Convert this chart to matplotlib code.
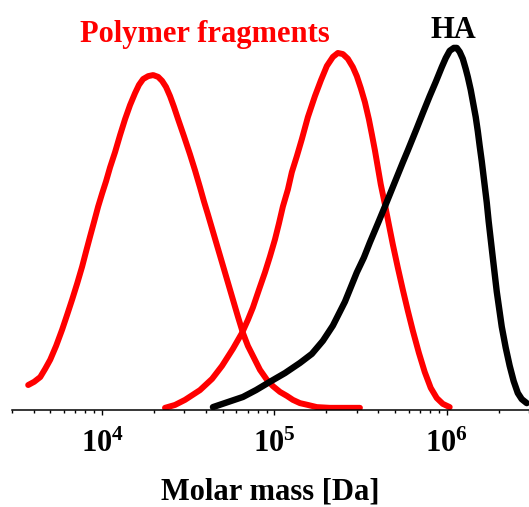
import matplotlib
matplotlib.use("Agg")
import matplotlib.pyplot as plt
import numpy as np

plt.rcParams['font.family'] = ['Liberation Serif', 'DejaVu Serif']
plt.rcParams['font.weight'] = 'bold'
plt.rcParams['mathtext.fontset'] = 'custom'
plt.rcParams['mathtext.rm'] = 'Liberation Serif:bold'
plt.rcParams['mathtext.bf'] = 'Liberation Serif:bold'
plt.rcParams['mathtext.it'] = 'Liberation Serif:bold'

# fragment 1 (low molar mass): log10(M / Da) and normalised signal
frag1_logm = [3.571, 3.606, 3.641, 3.670, 3.699, 3.733, 3.768, 3.797, 3.826,
              3.855, 3.884, 3.907, 3.930, 3.954, 3.977, 4.000, 4.023, 4.046,
              4.075, 4.104, 4.133, 4.162, 4.191, 4.214, 4.238, 4.267, 4.296,
              4.325, 4.348, 4.371, 4.394, 4.417, 4.441, 4.475, 4.510, 4.539,
              4.568, 4.591, 4.614, 4.643, 4.672, 4.701, 4.730, 4.759, 4.788,
              4.817, 4.846, 4.881, 4.916, 4.957, 4.991, 5.032, 5.072, 5.107,
              5.148, 5.194, 5.246, 5.322, 5.409, 5.496]
frag1_signal = [0.069, 0.078, 0.091, 0.114, 0.139, 0.177, 0.222, 0.263, 0.305,
                0.349, 0.396, 0.438, 0.479, 0.521, 0.562, 0.598, 0.632, 0.670,
                0.712, 0.759, 0.803, 0.842, 0.875, 0.898, 0.914, 0.922, 0.925,
                0.920, 0.909, 0.892, 0.867, 0.837, 0.803, 0.756, 0.706, 0.662,
                0.615, 0.576, 0.540, 0.493, 0.446, 0.399, 0.352, 0.305, 0.258,
                0.213, 0.177, 0.144, 0.111, 0.083, 0.066, 0.050, 0.039, 0.028,
                0.019, 0.014, 0.008, 0.006, 0.006, 0.006]

# fragment 2 (higher molar mass)
frag2_logm = [4.365, 4.423, 4.481, 4.568, 4.638, 4.696, 4.759, 4.812, 4.846,
              4.875, 4.910, 4.945, 4.974, 5.003, 5.026, 5.049, 5.078, 5.101,
              5.130, 5.159, 5.194, 5.235, 5.270, 5.304, 5.339, 5.368, 5.397,
              5.426, 5.455, 5.478, 5.501, 5.525, 5.548, 5.565, 5.583, 5.600,
              5.617, 5.641, 5.664, 5.687, 5.716, 5.745, 5.774, 5.803, 5.838,
              5.872, 5.907, 5.942, 5.977, 6.017]
frag2_signal = [0.006, 0.014, 0.028, 0.055, 0.086, 0.122, 0.169, 0.213, 0.249,
                0.283, 0.332, 0.380, 0.424, 0.471, 0.515, 0.562, 0.609, 0.657,
                0.701, 0.748, 0.809, 0.867, 0.911, 0.950, 0.975, 0.986, 0.983,
                0.970, 0.947, 0.922, 0.889, 0.850, 0.803, 0.762, 0.717, 0.670,
                0.623, 0.568, 0.512, 0.457, 0.393, 0.332, 0.274, 0.219, 0.158,
                0.105, 0.061, 0.033, 0.017, 0.008]

# native HA
ha_logm = [4.643, 4.730, 4.817, 4.893, 4.974, 5.061, 5.148, 5.217, 5.281,
           5.339, 5.409, 5.478, 5.519, 5.554, 5.600, 5.641, 5.693, 5.745,
           5.774, 5.803, 5.826, 5.861, 5.901, 5.936, 5.971, 5.994, 6.017,
           6.041, 6.058, 6.075, 6.093, 6.110, 6.122, 6.139, 6.151, 6.168,
           6.180, 6.191, 6.203, 6.220, 6.232, 6.243, 6.255, 6.267, 6.290,
           6.319, 6.342, 6.365, 6.388, 6.412, 6.435, 6.464]
ha_signal = [0.008, 0.022, 0.036, 0.055, 0.078, 0.102, 0.130, 0.155, 0.191,
             0.233, 0.299, 0.380, 0.421, 0.463, 0.515, 0.562, 0.623, 0.684,
             0.717, 0.751, 0.778, 0.820, 0.867, 0.906, 0.947, 0.972, 0.992,
             1.000, 1.000, 0.989, 0.970, 0.942, 0.920, 0.884, 0.853, 0.809,
             0.770, 0.729, 0.687, 0.620, 0.573, 0.521, 0.471, 0.421, 0.327,
             0.230, 0.172, 0.122, 0.080, 0.047, 0.030, 0.019]

tick_vals = [1e4, 1e5, 1e6]
tick_text = [r'$10^{4}$', r'$10^{5}$', r'$10^{6}$']

fig = plt.figure(figsize=(5.29, 5.07), dpi=100)
ax = fig.add_axes([0.0227, 0.1913, 0.9773, 0.7692])

red = '#ff0000'
style = dict(solid_capstyle='round', solid_joinstyle='round')
ax.plot(10 ** np.array(frag1_logm), frag1_signal, color=red, lw=4.3, **style)
ax.plot(10 ** np.array(frag2_logm), frag2_signal, color=red, lw=4.3, **style)
ax.plot(10 ** np.array(ha_logm), ha_signal, color='black', lw=4.6, **style)

ax.set_xscale('log')
ax.set_xlim(3e3, 3e6)
ax.set_ylim(0, 1.077)

for s in ['left', 'right', 'top']:
    ax.spines[s].set_visible(False)
ax.spines['bottom'].set_linewidth(1.1)
ax.set_yticks([])
ax.set_xticks(tick_vals)
ax.set_xticklabels(tick_text, fontsize=22)
ax.tick_params(axis='x', which='major', direction='out', length=3.8, width=1.0, pad=10.5)
ax.tick_params(axis='x', which='minor', direction='out', length=2.3, width=1.0)
ax.xaxis.set_minor_formatter(matplotlib.ticker.NullFormatter())

ax.set_xlabel('Molar mass [Da]', fontsize=22, fontweight='bold', labelpad=13)

fig.text(0.1512, 0.9172, 'Polymer fragments', color=red, fontsize=22,
         fontweight='bold', ha='left', va='baseline')
fig.text(0.8129, 0.925, 'HA', color='black', fontsize=22,
         fontweight='bold', ha='left', va='baseline')

fig.savefig('out.png', dpi=100)
